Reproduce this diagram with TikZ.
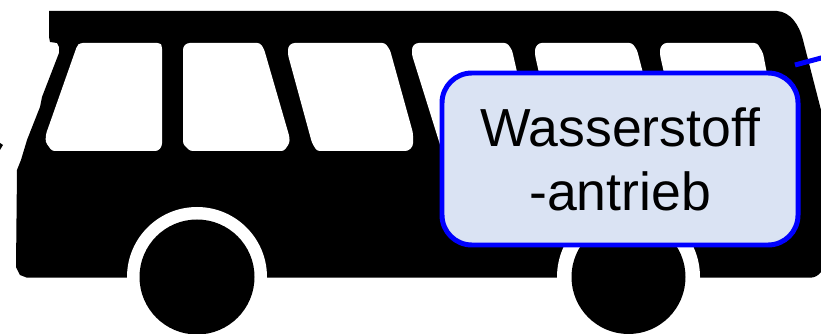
\documentclass[tikz,border=0pt]{standalone}
\usepackage{fontspec}
\setmainfont{Liberation Sans}
\usetikzlibrary{calc}
\definecolor{BoxBlue}{HTML}{0000FF}
\definecolor{BoxFill}{HTML}{DAE3F3}
\tikzset{
  windowpane/.style={fill=white,rounded corners=1.5pt},
  wheelarch/.style={fill=white},
  wheelblack/.style={fill=black}
}
\begin{document}
\begin{tikzpicture}[x=0.02cm,y=-0.02cm]
  \useasboundingbox (0,0) rectangle (821,334);
  \fill[black] (49,11) -- (777,11) .. controls (790,12) and (799,24) .. (803,40) -- (821,110) -- (821,272) .. controls (818,276) and (814,277.7) .. (810,277.7) -- (27,277.7) -- (20,275) -- (16,267) -- (17,170) -- (21,160) -- (27,140) -- (40,107) -- (42,97) -- (59,53) -- (59,47) -- (57,43) -- (50,42) -- (49,37) -- cycle;
  \fill[black] (0,143) -- (3,145) -- (0,150) -- cycle;
  \fill[windowpane] (80,43) -- (160,43) -- (162,46) -- (162,146) -- (158,151) -- (52,151) -- (45.5,142) -- (46,134) -- (77,46) -- cycle;
  \fill[windowpane] (187,43) -- (260,43) -- (264,49) -- (289.5,137) -- (289.5,143) -- (284,151) -- (190,151) -- (183,144) -- (183,47) -- cycle;
  \fill[windowpane] (292,43) -- (385,43) -- (390,50) -- (413,133) -- (413,146) -- (408,151) -- (317,151) -- (312,143) -- (288,55) -- (288,47) -- cycle;
  \fill[windowpane] (416,43) -- (507,43) -- (512,50) -- (535,151) -- (442,151) -- (412,55) -- (412,47) -- cycle;
  \fill[windowpane] (539,43) -- (632,43) -- (637,50) -- (650,100) -- (545,100) -- (535,55) -- (535,48) -- cycle;
  \fill[windowpane] (664,43) -- (757,43) -- (763,53) -- (772,100) -- (670,100) -- (660,55) -- (660,48) -- cycle;
  \fill[wheelarch] (197,277) circle (70);
  \fill[wheelarch] (628.5,277) circle (71.5);
  \fill[wheelblack] (197,277) circle (57.5);
  \fill[wheelblack] (628.5,277) circle (57);
  \node[draw=BoxBlue,fill=BoxFill,line width=5pt*0.5669,rounded corners=17pt,minimum width=356*0.02cm,minimum height=172*0.02cm,align=center,font=\fontsize{30.5}{36.4}\selectfont,outer sep=0pt,inner sep=0pt] (box) at (620,159) {Wasserstoff\\-antrieb};
  \coordinate (boxend) at (826,56.7);
  \draw[BoxBlue,line width=5pt*0.5669] ($(box.north east)+(-3,-8)$) -- (boxend);
\end{tikzpicture}
\end{document}
